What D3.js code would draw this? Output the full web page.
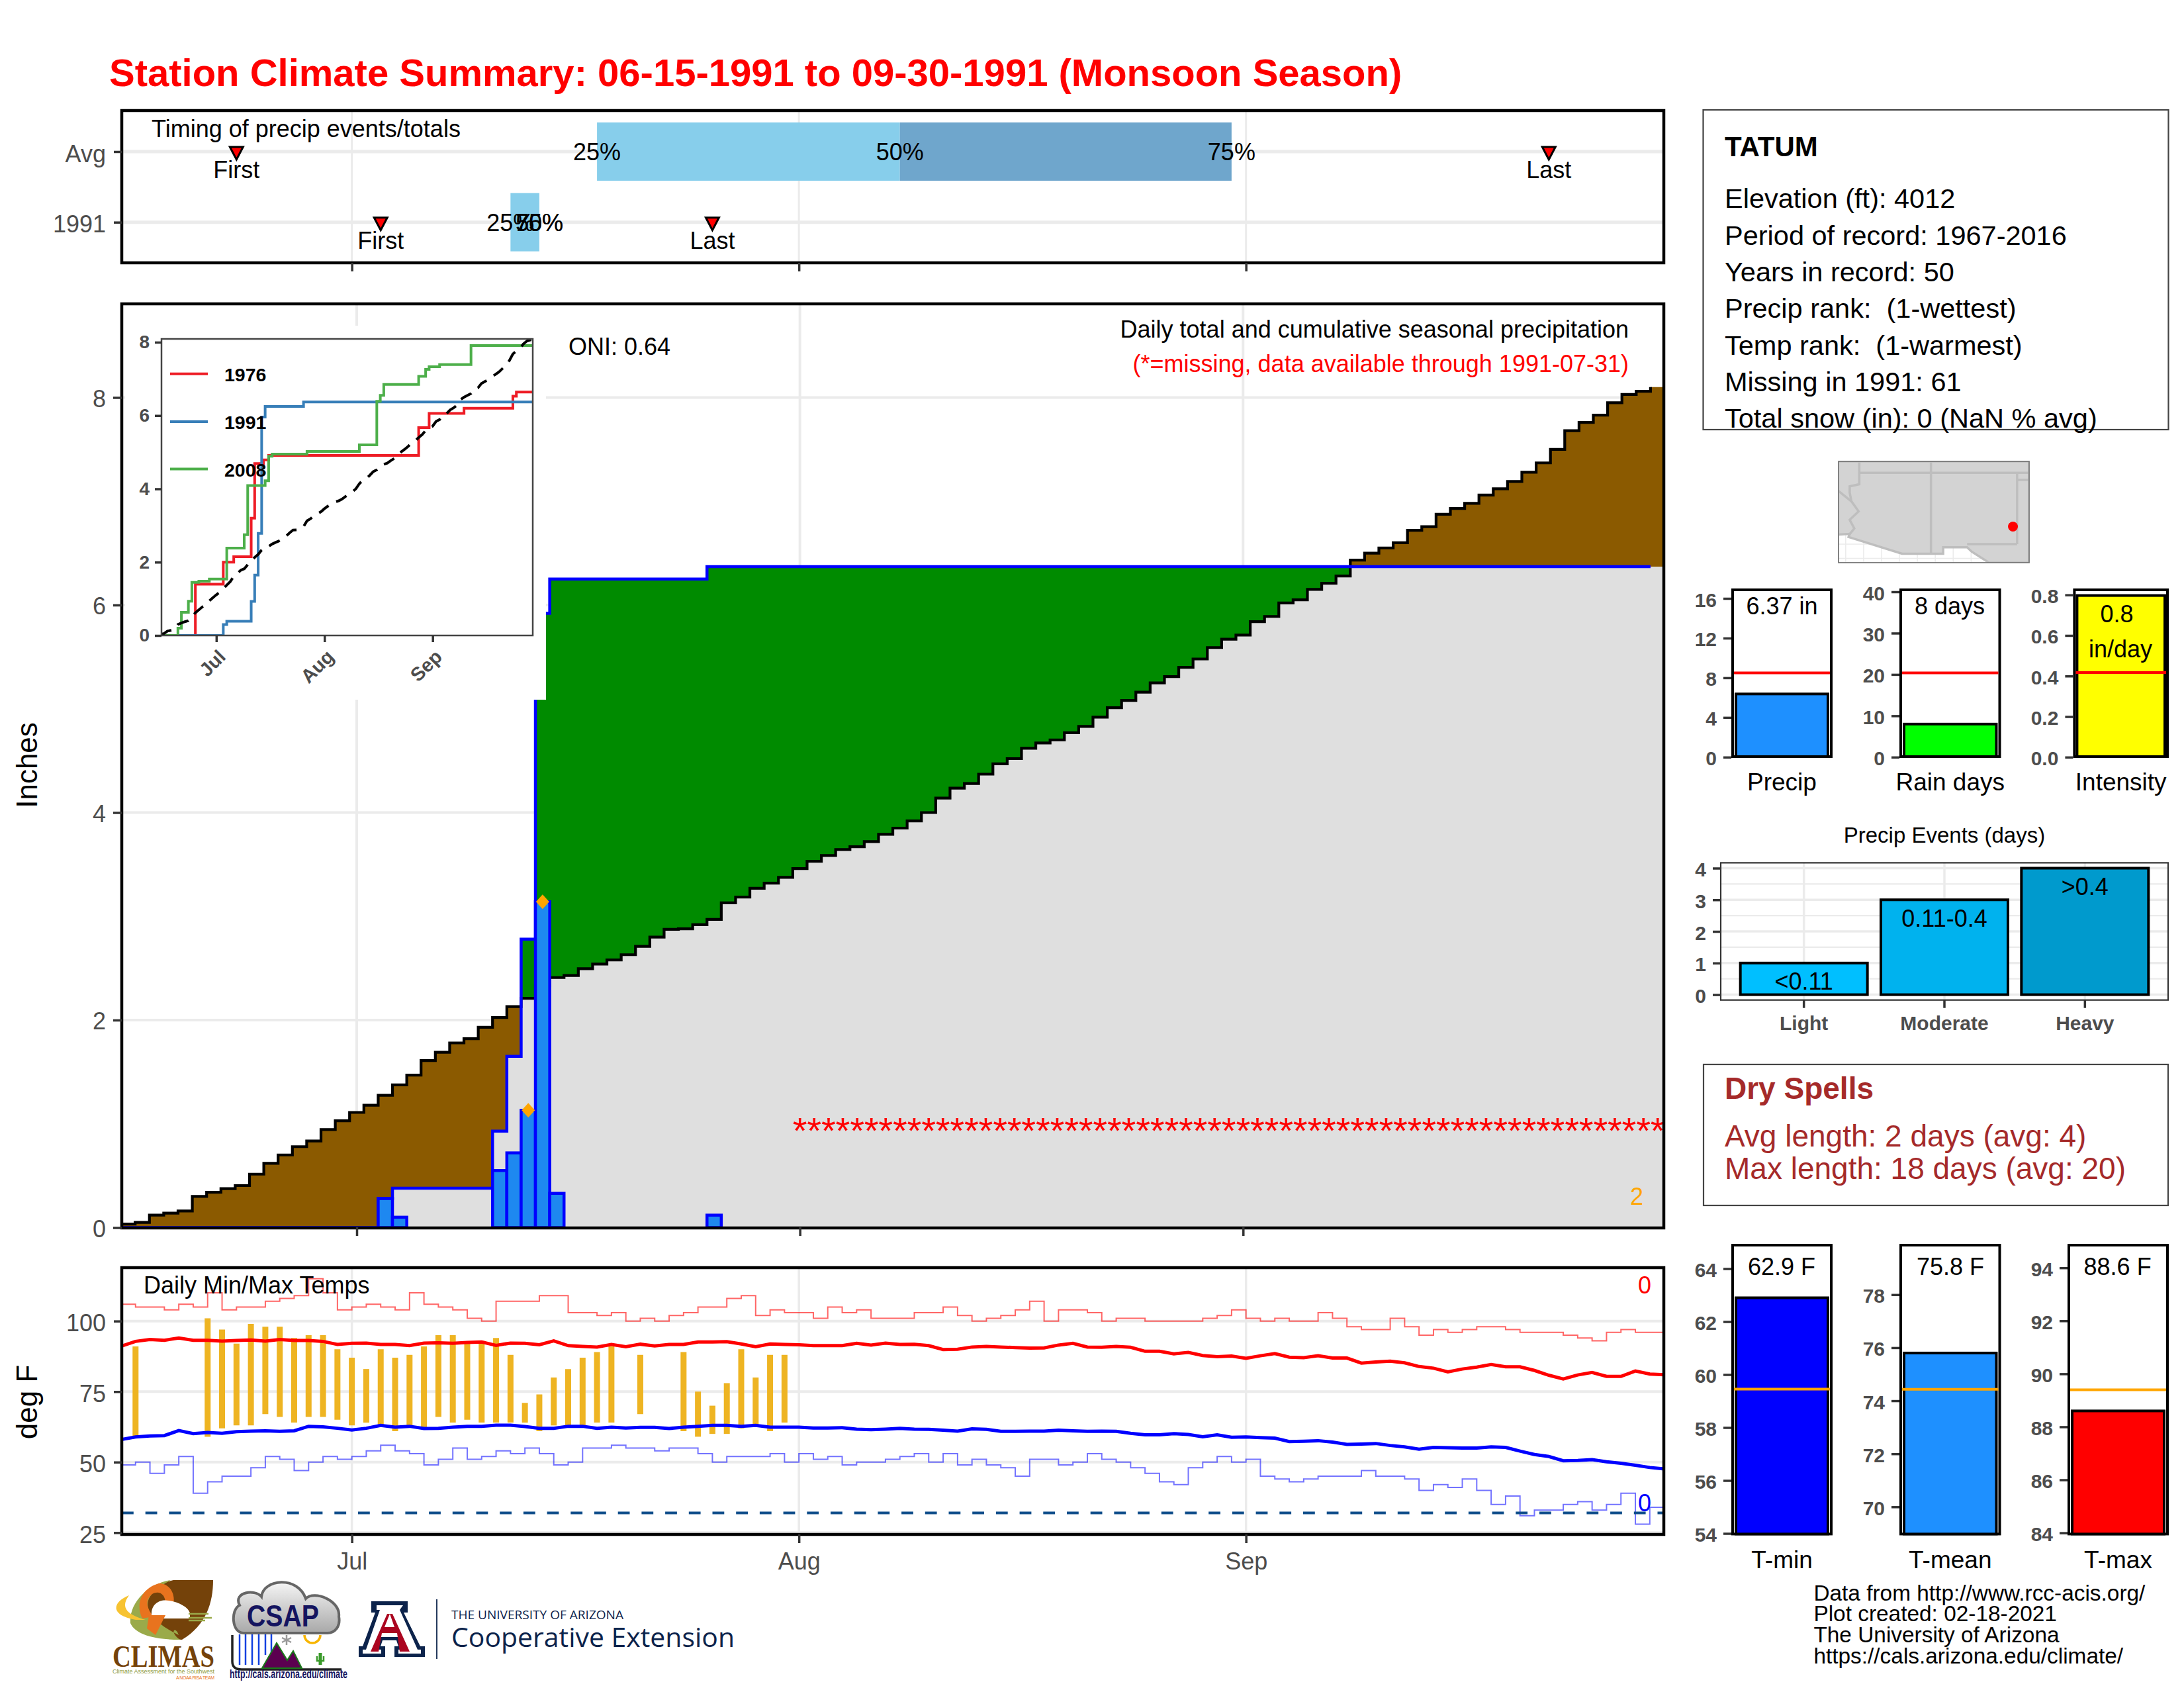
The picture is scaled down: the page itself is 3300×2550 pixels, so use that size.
<!DOCTYPE html>
<html><head><meta charset="utf-8">
<script src="https://cdn.jsdelivr.net/npm/d3@7"></script>
<style>html,body{margin:0;background:#fff}svg{display:block}text{font-family:"Liberation Sans",Arial,sans-serif}</style>
</head><body><svg id="c" width="3300" height="2550" viewBox="0 0 3300 2550"></svg>
<script>
// ---- data (day index 0 = Jun 15) ----
const monthDays=[16,47,78], monthLabels=["Jul","Aug","Sep"];
const climoCum=[.034,.05,.12,.14,.16,.30,.34,.375,.405,.515,.62,.70,.78,.835,.945,1.03,1.11,1.18,1.275,1.375,1.47,1.61,1.69,1.78,1.82,1.93,2.025,2.13,2.21,2.33,2.41,2.43,2.495,2.54,2.58,2.63,2.71,2.80,2.875,2.88,2.92,2.97,3.13,3.185,3.27,3.32,3.376,3.46,3.53,3.586,3.644,3.67,3.72,3.79,3.85,3.92,4.0,4.14,4.235,4.28,4.37,4.47,4.52,4.62,4.67,4.70,4.77,4.83,4.92,5.01,5.08,5.16,5.25,5.31,5.40,5.48,5.59,5.67,5.71,5.84,5.89,6.02,6.05,6.15,6.21,6.28,6.433,6.50,6.55,6.60,6.72,6.755,6.875,6.93,6.98,7.06,7.12,7.19,7.28,7.37,7.50,7.68,7.76,7.83,7.95,8.03,8.06,8.10];
const rainDays=[18,19,26,27,28,29,30,41];
const rainVals=[.28,.10,.55,.72,1.13,3.14,.33,.12];
const extremeDays=[28,29];
const missingFrom=47, missingTo=107;
const yearsInset=["1976","1991","2008"];
const insetColors=["#EE1C25","#377EB8","#4DAF4A"];
const d1976=[0,10,18,21,26,27,29.5,31,74,77,87,101,102,107], v1976=[0,1.40,2.0,2.15,3.2,4.69,4.79,4.91,5.67,6.06,6.2,6.53,6.64,6.64];
const d1991=[0,18,19,26,27,28,29,30,41,107], v1991=[0,.30,.39,.93,1.65,2.785,5.96,6.25,6.37,6.37];
const d2008=[0,5,6,8,9,11,14,19,24,25,30,31,32,42,57,62,63,64,74,76,77,80,89,107], v2008=[0,.20,.63,.935,1.45,1.48,1.54,2.385,2.75,4.09,4.22,4.89,4.95,5.02,5.2,6.39,6.55,6.85,7.07,7.26,7.33,7.39,7.91,7.91];
const recHigh=[106,105,105,104,106,105,110,104,105,105,107,108,109,115,110,104,105,106,105,104,110,106,105,104,101,100,107,107,107,109,109,103,103,102,103,100,101,100,102,103,105,105,108,109,102,104,103,103,101,105,103,104,101,101,101,103,103,105,102,100,101,102,104,107,100,104,104,103,100,101,101,100,100,100,100,101,102,104,101,100,101,100,100,103,101,98,97,97,101,98,95,97,96,97,98,98,97,96,96,96,95,94,93,96,97,96,96];
const recLow=[49,50,46,49,52,39,43,45,45,48,52,51,47,50,52,51,52,54,56,54,53,49,51,55,51,52,54,53,55,53,49,50,55,55,56,55,55,54,55,55,53,50,52,52,52,53,50,53,51,52,49,50,50,51,52,53,50,53,49,51,49,48,45,51,51,49,50,53,51,50,48,46,43,42,48,50,52,50,51,45,44,43,44,45,45,45,47,45,45,44,40,42,41,44,40,35,38,31,33,33,35,36,33,35,39,28,34];
const avgMax=[91.1,92.8,93.5,93.2,94,93.2,93.2,92.9,93.1,93.3,92.9,93.5,93.1,93.1,92.8,91.7,92.1,92.2,91.7,91.7,91.3,92.2,92.3,92.1,92.4,92.6,91.4,92.2,92.1,91.6,93,91.3,91,90.8,91.7,90.9,91.8,91.2,91.7,91.7,92.6,92.6,92.7,91.9,90.9,91.9,91.7,91.6,91.3,91.3,91.3,92.1,91.5,92.2,91.7,91.8,91.3,89.9,90,90.8,91,90.8,90.6,90.4,90.5,91.5,92.1,90.8,90.7,91,90.7,89.3,89.3,88.4,88.9,87.8,87.4,87.6,86.8,87.7,88.5,87.2,87,87.7,86.9,86.9,85.1,85.5,85.8,85.2,83.9,83.3,82,83,83.7,84.6,83.8,83.8,82.5,80.8,79.5,80.9,81.8,80.4,80.4,82.3,81.2,81];
const avgMin=[58,58.9,59.3,59.4,61.2,60.1,60.5,60.2,60.8,61,61.1,60.9,61.1,62.7,62.5,62,61.4,62,63,62.4,62.7,61.9,62,62.4,62.7,62.7,63.1,63.1,62.6,62,62,62.7,62.7,62,62.4,62.1,62.3,62.3,61.9,62.4,62.7,63,63,62.7,63,62.4,62.4,62.4,62.1,62.1,62.2,61.7,61.5,61.7,62,61.7,61.6,61.3,61,61.8,61.6,60.9,60.9,61,61,61.3,61.1,60.9,61,60.9,60.2,59.7,59.7,60.1,59.8,59,59.7,58.8,58.9,58.7,58.5,57.3,57.4,57.6,57.1,56.3,56.4,56.6,55.9,55.4,54.6,55.2,55.1,55,55,55.4,55.2,53.9,52.7,52,50.5,50.6,50.9,50.1,49.6,48.9,48.1,47.6];
const obsDays=[1,6,7,8,9,10,11,12,13,14,15,16,17,18,19,20,21,22,23,24,25,26,27,28,29,30,31,32,33,34,36,39,40,41,42,43,44,45,46];
const obsHigh=[91,101,97,92,99,98,98,94,95,95,90,87,83,90,87,88,91,95,95,92,93,94,88,71,74,80,83,87,89,91,88,89,75,70,78,90,80,88,88];
const obsLow=[59,59,62,63,63,67,66,64,66,66,65,63,64,63,61,63,62,66,64,65,64,64,64,64,61,63,63,63,64,64,67,61,59,60,60,62,63,61,64];
const timingRows=["Avg","1991"];
const timingQ=[[33,54,77],[27,29,29]];
const timingFirst=[8,18], timingLast=[99,41];
const qLabels=["25%","50%","75%"];
const stationLines=["Elevation (ft): 4012","Period of record: 1967-2016","Years in record: 50","Precip rank:  (1-wettest)","Temp rank:  (1-warmest)","Missing in 1991: 61","Total snow (in): 0 (NaN % avg)"];
const footerLines=["Data from http://www.rcc-acis.org/","Plot created: 02-18-2021","The University of Arizona","https://cals.arizona.edu/climate/"];
const eventCats=["Light","Moderate","Heavy"], eventVals=[1,3,4], eventText=["<0.11","0.11-0.4",">0.4"], eventFill=["#00BFFF","#00B2EE","#009ACD"];
const mapSouth=[[-115.6,32.67],[-114.72,32.72],[-114.8,32.5],[-111.07,31.33],[-108.2,31.33],[-108.2,31.78],[-106.53,31.78],[-106.2,31.47],[-105.0,30.7],[-102.2,30.7],[-102.2,37.8],[-115.6,37.8]];
const mapLines=[[[-114.05,37.8],[-114.05,36.2],[-114.72,36.05],[-114.72,35.6],[-114.6,35.0],[-114.1,34.3],[-114.72,33.7],[-114.4,33.1],[-114.8,32.6]],[[-115.6,35.8],[-114.6,35.0]],[[-114.05,37],[-102.2,37]],[[-109.05,37.8],[-109.05,31.33]],[[-103.04,37],[-103.04,32]],[[-106.53,32],[-103.04,32]],[[-103.04,36.5],[-102.2,36.5]]];
const mapGridLon=[-115,-113.75,-112.5,-111.25,-110,-108.75,-107.5,-106.25], mapGridLat=[32,31];
const stationLonLat=[-103.33,33.23];

// ---- helpers ----
const svg=d3.select("#c");
const defs=svg.append("defs");
const FONT=36, GREY="#4d4d4d";
function T(g,x,y,s,o={}){return g.append("text").attr("x",x).attr("y",y).attr("text-anchor",o.a||"start").attr("font-size",o.s||FONT).attr("font-weight",o.w||"normal").attr("fill",o.f||"#000").style("white-space","pre").text(s);}
function clip(id,x,y,w,h){defs.append("clipPath").attr("id",id).append("rect").attr("x",x).attr("y",y).attr("width",w).attr("height",h);}
function styleAxis(sel,o={}){sel.select(".domain").remove();sel.selectAll(".tick line").attr("stroke",o.c||"#333").attr("stroke-width",o.lw||3.5);
 sel.selectAll(".tick text").attr("fill",GREY).attr("font-size",o.s||FONT).attr("font-weight",o.w||"normal").attr("font-family","Liberation Sans");
 if(o.dy)sel.selectAll(".tick text").attr("dy",o.dy);}
function border(g,x,y,w,h,sw,c){g.append("rect").attr("x",x).attr("y",y).attr("width",w).attr("height",h).attr("fill","none").attr("stroke",c||"#000").attr("stroke-width",sw||4.5);}
function hgrid(g,ys,x0,x1,sw){g.selectAll(null).data(ys).enter().append("line").attr("x1",x0).attr("x2",x1).attr("y1",d=>d).attr("y2",d=>d).attr("stroke","#ebebeb").attr("stroke-width",sw||4);}
function vgrid(g,xs,y0,y1,sw){g.selectAll(null).data(xs).enter().append("line").attr("y1",y0).attr("y2",y1).attr("x1",d=>d).attr("x2",d=>d).attr("stroke","#ebebeb").attr("stroke-width",sw||4);}

// Title
T(svg,165,130,"Station Climate Summary: 06-15-1991 to 09-30-1991 (Monsoon Season)",{s:58,w:"bold",f:"#FF0000"});

// ---- timing panel ----
const PL=184,PR=2514;
const xDay=d3.scaleLinear().domain([0,107]).range([183,2514.6]);
{
 const g=svg.append("g"),top=167,bot=397;
 const y=d3.scalePoint().domain(timingRows).range([229,335.7]);
 vgrid(g,monthDays.map(xDay),top,bot,3);
 hgrid(g,timingRows.map(y),PL,PR,5);
 timingRows.forEach((r,i)=>{const q=timingQ[i],yc=y(r),h=44;
  g.append("rect").attr("x",xDay(q[0])).attr("y",yc-h).attr("width",xDay(q[1])-xDay(q[0])).attr("height",h*2).attr("fill","#87CEEB");
  g.append("rect").attr("x",xDay(q[1])).attr("y",yc-h).attr("width",xDay(q[2])-xDay(q[1])).attr("height",h*2).attr("fill","#6FA6CC");
  q.forEach((d,k)=>T(g,xDay(d),yc+13,qLabels[k],{a:"middle",s:36}));
  [[timingFirst[i],"First"],[timingLast[i],"Last"]].forEach(([d,s])=>{
   g.append("path").attr("d",d3.line()([[-10,-7],[10,-7],[0,12]])+"Z").attr("transform",`translate(${xDay(d)},${yc})`).attr("fill","#f00").attr("stroke","#000").attr("stroke-width",3);
   T(g,xDay(d),yc+40,s,{a:"middle",s:36});
  });
 });
 T(g,229,206.5,"Timing of precip events/totals",{s:36});
 border(g,PL,top,PR-PL,bot-top);
 const ax=g.append("g").attr("transform",`translate(${PL},0)`).call(d3.axisLeft(y).tickSize(12).tickPadding(12));styleAxis(ax,{dy:"0.42em"});
 const bx=g.append("g").attr("transform",`translate(0,${bot})`).call(d3.axisBottom(xDay).tickValues(monthDays).tickSize(13).tickFormat(""));styleAxis(bx);
}

// ---- main precip panel ----
const xMain=d3.scaleLinear().domain([-0.435,107.43]).range([184,2514]);
const yMain=d3.scaleLinear().domain([0,8.9]).range([1854.5,459.4]);
const daily=climoCum.map(()=>0);rainDays.forEach((d,i)=>daily[d]=rainVals[i]);
const obsCum=[];daily.reduce((a,v,i)=>obsCum[i]=+(a+v).toFixed(2),0);
{
 clip("mainClip",PL,459,PR-PL,1396);
 const g=svg.append("g");
 vgrid(g,monthDays.map(xMain),459,1854);
 hgrid(g,[0,2,4,6,8].map(yMain),PL,PR);
 const c=g.append("g").attr("clip-path","url(#mainClip)");
 const pts=climoCum.map((v,i)=>({e:i-0.5,c:v,o:obsCum[i]}));pts.push({e:107.5,c:climoCum[107],o:obsCum[107]});
 const area=(a,b)=>d3.area().curve(d3.curveStepAfter).x(d=>xMain(d.e)).y0(d=>yMain(a(d))).y1(d=>yMain(b(d)));
 const mn=d=>Math.min(d.c,d.o),mx=d=>Math.max(d.c,d.o);
 c.append("path").attr("d",area(()=>0,mn)(pts)).attr("fill","#DFDFDF");
 c.append("path").attr("d",area(mn,d=>d.c)(pts)).attr("fill","#8B5A00");
 c.append("path").attr("d",area(d=>d.c,mx)(pts)).attr("fill","#008B00");
 const lpts=pts.slice(0,108);
 const step=k=>d3.line().curve(d3.curveStepAfter).x(d=>xMain(d.e)).y(d=>yMain(d[k]));
 c.append("path").attr("d",step("c")(lpts)).attr("fill","none").attr("stroke","#000").attr("stroke-width",4.2);
 c.append("path").attr("d",step("o")(lpts)).attr("fill","none").attr("stroke","#0000FF").attr("stroke-width",4.5);
 rainDays.forEach((d,i)=>c.append("rect").attr("x",xMain(d-.5)).attr("width",xMain(d+.5)-xMain(d-.5)).attr("y",yMain(rainVals[i])).attr("height",yMain(0)-yMain(rainVals[i])).attr("fill","#1E88F0").attr("stroke","#0000FF").attr("stroke-width",4.5));
 extremeDays.forEach(d=>c.append("path").attr("d","M0,-11L10,0L0,11L-10,0Z").attr("transform",`translate(${xMain(d)},${yMain(daily[d])})`).attr("fill","#FFA500"));
 const miss=d3.range(missingFrom,missingTo+1);
 c.selectAll(null).data(miss).enter().append("text").attr("x",d=>xMain(d)).attr("y",yMain(1)+29).attr("text-anchor","middle").attr("font-size",56).attr("fill","#f00").text("*");
 T(g,2473,1820,"2",{a:"middle",s:36,f:"#FFA500"});
 // inset background hides what lies behind it
 g.append("rect").attr("x",189).attr("y",492).attr("width",636).attr("height",565).attr("fill","#fff");
 T(g,859,536,"ONI: 0.64",{s:36});
 T(g,2461,510,"Daily total and cumulative seasonal precipitation",{a:"end",s:36});
 T(g,2461,562,"(*=missing, data available through 1991-07-31)",{a:"end",s:36,f:"#f00"});
 border(g,PL,459,PR-PL,1396);
 const ax=g.append("g").attr("transform",`translate(${PL},0)`).call(d3.axisLeft(yMain).tickValues([0,2,4,6,8]).tickSize(13).tickPadding(11));styleAxis(ax,{dy:"0.38em"});
 const bx=g.append("g").attr("transform","translate(0,1854)").call(d3.axisBottom(xMain).tickValues(monthDays).tickSize(13).tickFormat(""));styleAxis(bx);
 T(svg,0,0,"Inches",{a:"middle",s:44}).attr("transform","translate(56,1156) rotate(-90)");
}
// inset
{
 const xI=d3.scaleLinear().domain([0.29,106.7]).range([244,805]);
 const yI=d3.scaleLinear().domain([0,8.09]).range([960,512]);
 clip("inClip",244,512,561,448);
 const g=svg.append("g"),c=g.append("g").attr("clip-path","url(#inClip)");
 const line=d3.line().curve(d3.curveStepAfter).x(d=>xI(d[0])).y(d=>yI(d[1]));
 [[d1976,v1976],[d1991,v1991],[d2008,v2008]].forEach(([d,v],i)=>c.append("path").attr("d",line(d.map((x,k)=>[x,v[k]]))).attr("fill","none").attr("stroke",insetColors[i]).attr("stroke-width",4));
 c.append("path").attr("d",d3.line().x((d,i)=>xI(i)).y(d=>yI(d))(climoCum)).attr("fill","none").attr("stroke","#000").attr("stroke-width",4).attr("stroke-dasharray","18,13");
 const ly=[564.7,636.9,708.6];
 yearsInset.forEach((s,i)=>{g.append("line").attr("x1",257).attr("x2",314).attr("y1",ly[i]).attr("y2",ly[i]).attr("stroke",insetColors[i]).attr("stroke-width",4);
  T(g,339,ly[i]+11,s,{s:28.5,w:"bold"});});
 border(g,244,512,561,448,2.5,"#444");
 const ax=g.append("g").attr("transform","translate(244,0)").call(d3.axisLeft(yI).tickValues([0,2,4,6,8]).tickSize(10).tickPadding(8));styleAxis(ax,{s:28,w:"bold"});
 const bx=g.append("g").attr("transform","translate(0,960)").call(d3.axisBottom(xI).tickValues(monthDays).tickSize(10).tickFormat(""));styleAxis(bx);
 monthDays.forEach((d,i)=>T(g,0,0,monthLabels[i],{a:"end",s:29,w:"bold",f:GREY}).attr("transform",`translate(${xI(d)+16},${994}) rotate(-45)`));
}

// ---- temperature panel ----
{
 const top=1915,bot=2318;
 const y=d3.scaleLinear().domain([25,100]).range([2315.3,1995.7]);
 clip("tClip",PL,top,PR+1-PL,bot-top);
 const g=svg.append("g");
 vgrid(g,monthDays.map(xDay),top,bot,3.5);
 hgrid(g,[25,50,75,100].map(y),PL,PR,4);
 const c=g.append("g").attr("clip-path","url(#tClip)");
 const thin=arr=>d3.line().curve(d3.curveStepAfter).x((d,i)=>xDay(i)).y(d=>y(d))(arr.concat(arr[arr.length-1]));
 c.append("path").attr("d",thin(recHigh)).attr("fill","none").attr("stroke","#f00").attr("stroke-width",2).attr("opacity",.6);
 c.append("path").attr("d",thin(recLow)).attr("fill","none").attr("stroke","#00f").attr("stroke-width",2).attr("opacity",.55);
 obsDays.forEach((d,i)=>c.append("line").attr("x1",xDay(d)).attr("x2",xDay(d)).attr("y1",y(obsHigh[i])).attr("y2",y(obsLow[i])).attr("stroke","#EEB422").attr("stroke-width",9));
 const l=d3.line().x((d,i)=>xDay(i)).y(d=>y(d));
 c.append("path").attr("d",l(avgMax)).attr("fill","none").attr("stroke","#f00").attr("stroke-width",5);
 c.append("path").attr("d",l(avgMin)).attr("fill","none").attr("stroke","#00f").attr("stroke-width",5);
 c.append("line").attr("x1",PL).attr("x2",PR).attr("y1",y(32)).attr("y2",y(32)).attr("stroke","#104E8B").attr("stroke-width",4).attr("stroke-dasharray","17.8,17.9");
 T(g,217,1953.5,"Daily Min/Max Temps",{s:36});
 T(g,2485,1954,"0",{a:"middle",s:36,f:"#f00"});
 T(g,2485,2283,"0",{a:"middle",s:36,f:"#00f"});
 border(g,PL,top,PR-PL,bot-top);
 const ax=g.append("g").attr("transform",`translate(${PL},0)`).call(d3.axisLeft(y).tickValues([25,50,75,100]).tickSize(12).tickPadding(12));styleAxis(ax,{dy:"0.42em"});
 const bx=g.append("g").attr("transform",`translate(0,${bot})`).call(d3.axisBottom(xDay).tickValues(monthDays).tickSize(13).tickFormat((d,i)=>monthLabels[i]).tickPadding(14));styleAxis(bx);
 T(svg,0,0,"deg F",{a:"middle",s:44}).attr("transform","translate(56,2118) rotate(-90)");
}

// ---- station box ----
{
 const g=svg.append("g");
 border(g,2573.5,166,703,483,2.2,"#444");
 T(g,2606,236,"TATUM",{s:42,w:"bold"});
 const b=[314,370,425,480,536,591,646];
 stationLines.forEach((s,i)=>T(g,2606,b[i],s,{s:41.5}));
}
// ---- map ----
{
 const g=svg.append("g"),L=2778,Rr=3066,Tp=697,B=850;
 clip("mapClip",L,Tp,Rr-L,B-Tp);
 const x=d3.scaleLinear().domain([-115.5,-102.2]).range([L,Rr]);
 const y=d3.scaleLinear().domain([30.7,37.8]).range([B,Tp]);
 const c=g.append("g").attr("clip-path","url(#mapClip)");
 mapGridLon.forEach(d=>c.append("line").attr("x1",x(d)).attr("x2",x(d)).attr("y1",Tp).attr("y2",B).attr("stroke","#ebebeb").attr("stroke-width",1.5));
 mapGridLat.forEach(d=>c.append("line").attr("y1",y(d)).attr("y2",y(d)).attr("x1",L).attr("x2",Rr).attr("stroke","#ebebeb").attr("stroke-width",1.5));
 const ln=d3.line().x(d=>x(d[0])).y(d=>y(d[1]));
 c.append("path").attr("d",ln(mapSouth)+"Z").attr("fill","#D3D3D3").attr("stroke","#BEBEBE").attr("stroke-width",3.5);
 mapLines.forEach(p=>c.append("path").attr("d",ln(p)).attr("fill","none").attr("stroke","#BEBEBE").attr("stroke-width",3.5));
 c.append("circle").attr("cx",x(stationLonLat[0])).attr("cy",y(stationLonLat[1])).attr("r",7.5).attr("fill","#f00");
 border(g,L,Tp,Rr-L,B-Tp,1.8,"#777");
}
// ---- bullet bars ----
function bullet(o){
 const g=svg.append("g");
 const y=d3.scaleLinear().domain(o.dom).range(o.rng);
 border(g,o.l,o.t,o.r-o.l,o.b-o.t,4);
 const pad=o.pad===undefined?5:o.pad;
 g.append("rect").attr("x",o.l+pad).attr("width",o.r-o.l-2*pad).attr("y",y(o.val)).attr("height",o.b-y(o.val)).attr("fill",o.fill).attr("stroke","#000").attr("stroke-width",4);
 g.append("line").attr("x1",o.l+2).attr("x2",o.r-2).attr("y1",y(o.ref)).attr("y2",y(o.ref)).attr("stroke",o.refc).attr("stroke-width",4);
 const ax=g.append("g").attr("transform",`translate(${o.l-2},0)`).call(d3.axisLeft(y).tickValues(o.ticks).tickSize(12).tickPadding(10).tickFormat(o.fmt||(d=>d)));styleAxis(ax,{s:30,w:"bold",dy:"0.4em"});
 (o.txt||[]).forEach(t=>T(g,t[0],t[1],t[2],{a:"middle",s:36}));
 T(g,(o.l+o.r)/2,o.lb,o.lab,{a:"middle",s:37});
}
bullet({l:2618,r:2767,t:891,b:1143,dom:[0,16],rng:[1143.8,904],ticks:[0,4,8,12,16],val:6.37,ref:8.5,fill:"#1E90FF",refc:"#f00",lab:"Precip",lb:1194,txt:[[2692.6,928,"6.37 in"]]});
bullet({l:2872,r:3021.5,t:891,b:1143,dom:[0,40],rng:[1143.8,894],ticks:[0,10,20,30,40],val:8,ref:20.4,fill:"#00FF00",refc:"#f00",lab:"Rain days",lb:1194,txt:[[2946,928,"8 days"]]});
bullet({l:3134.4,r:3275,t:891,b:1143,dom:[0,.8],rng:[1143.8,898.7],ticks:[0,.2,.4,.6,.8],fmt:d3.format(".1f"),val:.797,ref:.417,fill:"#FFFF00",refc:"#f00",lab:"Intensity",lb:1194,pad:4,txt:[[3198.6,940,"0.8"],[3204,993,"in/day"]]});
bullet({l:2618,r:2767,t:1881,b:2317.4,dom:[54,64],rng:[2316.5,1916.5],ticks:[54,56,58,60,62,64],val:62.9,ref:59.45,fill:"#0000FF",refc:"#FFA500",lab:"T-min",lb:2369,txt:[[2692,1926,"62.9 F"]]});
bullet({l:2872,r:3021.5,t:1881,b:2317.4,dom:[70,78],rng:[2276.3,1955.8],ticks:[70,72,74,76,78],val:75.8,ref:74.43,fill:"#1E90FF",refc:"#FFA500",lab:"T-mean",lb:2369,txt:[[2947,1926,"75.8 F"]]});
bullet({l:3126,r:3275,t:1881,b:2317.4,dom:[84,94],rng:[2315.6,1915.2],ticks:[84,86,88,90,92,94],val:88.6,ref:89.4,fill:"#FF0000",refc:"#FFA500",lab:"T-max",lb:2369,txt:[[3199.6,1926,"88.6 F"]]});
// ---- events ----
{
 const g=svg.append("g");
 const x=d3.scaleBand().domain(eventCats).range([2619.5,3256.5]).paddingInner(.0).padding(0);
 const y=d3.scaleLinear().domain([0,4]).range([1502.6,1311.5]);
 T(g,2938,1273,"Precip Events (days)",{a:"middle",s:33});
 hgrid(g,[.5,1.5,2.5,3.5].map(y),2600,3276,2.2);
 hgrid(g,[0,1,2,3,4].map(y),2600,3276,3.5);
 vgrid(g,eventCats.map(d=>x(d)+x.bandwidth()/2),1303,1511,3.5);
 eventCats.forEach((d,i)=>{const cx=x(d)+x.bandwidth()/2;
  g.append("rect").attr("x",cx-96).attr("width",192).attr("y",y(eventVals[i])).attr("height",y(0)-y(eventVals[i])).attr("fill",eventFill[i]).attr("stroke","#000").attr("stroke-width",4);
  T(g,cx,y(eventVals[i])+40.5,eventText[i],{a:"middle",s:36});
 });
 border(g,2600,1303.4,676,207.3,2.2,"#333");
 const ax=g.append("g").attr("transform","translate(2600,0)").call(d3.axisLeft(y).tickValues([0,1,2,3,4]).tickFormat(d=>d).tickSize(12).tickPadding(10));styleAxis(ax,{s:30,w:"bold",dy:"0.4em"});
 const bx=g.append("g").attr("transform","translate(0,1510.7)").call(d3.axisBottom(x).tickSize(12).tickPadding(12));styleAxis(bx,{s:30,w:"bold"});
}
// ---- dry spells ----
{
 const g=svg.append("g");
 border(g,2574,1608,702,213,2.2,"#444");
 T(g,2606,1660,"Dry Spells",{s:46,w:"bold",f:"#A52A2A"});
 T(g,2606,1732,"Avg length: 2 days (avg: 4)",{s:46,f:"#A52A2A"});
 T(g,2606,1781,"Max length: 18 days (avg: 20)",{s:46,f:"#A52A2A"});
}
// footer
{const b=[2418,2449,2480.5,2512.6];footerLines.forEach((s,i)=>T(svg,2740.4,b[i],s,{s:33.4}));}
// ---- logos ----
{
 const g=svg.append("g");
 // CLIMAS
 g.append("path").attr("d","M262,2387 L322,2387 C322,2420 312,2455 275,2477 C245,2477 225,2455 215,2430 C220,2405 240,2392 262,2387Z").attr("fill","#74420A");
 g.append("path").attr("d","M258,2387 C225,2392 195,2420 197,2452 C205,2470 235,2477 272,2477 C255,2465 265,2455 270,2470 C250,2460 215,2440 225,2415 C232,2400 250,2392 258,2387Z").attr("fill","#9AAA4A");
 g.append("path").attr("d","M215,2445 C205,2425 212,2400 240,2392 C258,2392 265,2410 262,2422 L250,2422 C250,2408 240,2402 230,2408 C218,2418 222,2430 232,2442 Z").attr("fill","#E8731E");
 g.append("path").attr("d","M230,2445 C225,2425 240,2415 255,2418 C270,2420 285,2428 287,2437 L287,2445Z").attr("fill","#fff");
 g.append("path").attr("d","M195,2410 C170,2420 165,2440 205,2447 L220,2447 C195,2440 180,2430 195,2410Z").attr("fill","#F7C331");
 g.append("path").attr("d","M225,2440 L250,2440 L235,2470 L222,2460Z").attr("fill","#E8731E");
 g.append("path").attr("d","M285,2438 L315,2438 M285,2444 L320,2444 M285,2448 L310,2448").attr("stroke","#9AAA4A").attr("stroke-width",2.5).attr("fill","none");
 T(g,170,2518,"CLIMAS",{s:46,w:"bold",f:"#74420A"}).style("font-family","Liberation Serif").attr("textLength",154).attr("lengthAdjust","spacingAndGlyphs");
 T(g,170,2528,"Climate Assessment for the Southwest",{s:9,f:"#8C9A3C"}).attr("textLength",154);
 T(g,266,2537,"A NOAA RISA TEAM",{s:7,f:"#E8731E"}).attr("textLength",58);
 // CSAP
 const gr=defs.append("linearGradient").attr("id","cl").attr("x1",0).attr("x2",0).attr("y1",0).attr("y2",1);
 gr.append("stop").attr("offset",0).attr("stop-color","#f5f5f5");gr.append("stop").attr("offset",1).attr("stop-color","#a8a8a8");
 g.append("path").attr("d","M368,2467 C350,2467 348,2432 362,2425 C352,2405 385,2400 395,2412 C398,2385 450,2380 462,2415 C475,2402 515,2418 512,2442 C515,2458 505,2467 495,2467Z").attr("fill","url(#cl)").attr("stroke","#666").attr("stroke-width",4);
 T(g,373,2457,"CSAP",{s:47,w:"bold",f:"#14145F"}).attr("textLength",109).attr("lengthAdjust","spacingAndGlyphs");
 [362,371,381,391,401,410].forEach((x,i)=>g.append("line").attr("x1",x).attr("x2",x).attr("y1",2469).attr("y2",i<4?2515:2500).attr("stroke","#1040E0").attr("stroke-width",2.5));
 g.append("path").attr("d","M351,2470 L351,2510 Q351,2522 365,2522 L516,2522").attr("fill","none").attr("stroke","#222").attr("stroke-width",3.5);
 g.append("path").attr("d","M396,2520 L418,2482 L434,2508 L443,2494 L456,2520Z").attr("fill","#5C0050").attr("stroke","#1A7A1A").attr("stroke-width",2);
 g.append("path").attr("d","M484,2515 L484,2497").attr("stroke","#3A9A2A").attr("stroke-width",5);
 g.append("path").attr("d","M479,2502 L479,2509 L489,2509 L489,2502").attr("stroke","#3A9A2A").attr("stroke-width",2.5).attr("fill","none");
 g.append("path").attr("d","M460,2470 A12,12 0 0 0 484,2470").attr("stroke","#F7B500").attr("stroke-width",3.5).attr("fill","none");
 g.append("path").attr("d","M433,2470 L433,2485 M426,2474 L440,2481 M440,2474 L426,2481").attr("stroke","#999").attr("stroke-width",2.5);
 T(g,347,2535,"http://cals.arizona.edu/climate",{s:18,w:"bold",f:"#14145F"}).attr("textLength",178).attr("lengthAdjust","spacingAndGlyphs");
 // UA
 g.append("path").attr("d","M561,2419 L616,2419 L616,2436 L610,2436 L635,2487 L642,2487 L642,2503 L596,2503 L596,2487 L602,2487 L599,2478 L578,2478 L575,2487 L582,2487 L582,2503 L542,2503 L542,2487 L548,2487 L567,2436 L561,2436Z").attr("fill","#0C234B");
 g.append("path").attr("d","M569,2425 L609,2425 L604,2432 L631,2492 L636,2492 L636,2498 L602,2498 L602,2492 L608,2492 L603,2473 L574,2473 L570,2492 L576,2492 L576,2498 L548,2498 L548,2492 L553,2492 L574,2432 L569,2432Z").attr("fill","#fff");
 g.append("path").attr("d","M585,2438 L593,2438 L619,2495 L604,2495 L600,2467 L577,2467 L572,2495 L560,2495Z M581,2458 L596,2458 L589,2438Z").attr("fill","#AB0520").attr("fill-rule","evenodd");
 g.append("line").attr("x1",660).attr("x2",660).attr("y1",2416).attr("y2",2506).attr("stroke","#0C234B").attr("stroke-width",1.8);
 T(g,682,2446,"THE UNIVERSITY OF ARIZONA",{s:18,f:"#0C234B"}).style("font-family","Open Sans").attr("textLength",260).attr("lengthAdjust","spacingAndGlyphs");
 T(g,682,2488,"Cooperative Extension",{s:41,f:"#0C234B"}).style("font-family","Open Sans").attr("textLength",428).attr("lengthAdjust","spacingAndGlyphs");
}
</script></body></html>
